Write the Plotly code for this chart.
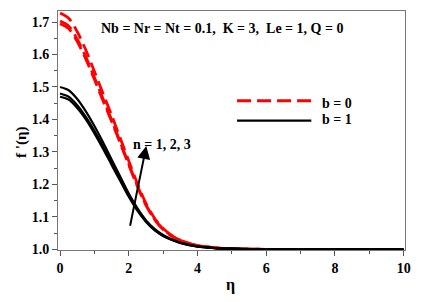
import plotly.graph_objects as go

eta = [0, 0.25, 0.5, 0.75, 1.0, 1.25, 1.5, 1.75, 2.0, 2.25, 2.5, 2.75, 3.0, 3.25, 3.5, 4.0, 4.5, 5.0, 5.5, 6.0, 7.0, 8.0, 9.0, 10.0]

b0_n1 = [1.728, 1.712, 1.670, 1.614, 1.548, 1.480, 1.413, 1.343, 1.272, 1.203, 1.142, 1.096, 1.064, 1.043, 1.028, 1.012, 1.005, 1.002, 1.001, 1.0, 1.0, 1.0, 1.0, 1.0]
b0_n2 = [1.703, 1.688, 1.647, 1.593, 1.529, 1.464, 1.399, 1.331, 1.263, 1.196, 1.137, 1.093, 1.062, 1.042, 1.027, 1.012, 1.005, 1.002, 1.001, 1.0, 1.0, 1.0, 1.0, 1.0]
b0_n3 = [1.695, 1.680, 1.640, 1.586, 1.523, 1.458, 1.394, 1.327, 1.260, 1.194, 1.136, 1.092, 1.061, 1.041, 1.027, 1.011, 1.005, 1.002, 1.001, 1.0, 1.0, 1.0, 1.0, 1.0]

b1_n1 = [1.500, 1.490, 1.463, 1.425, 1.380, 1.330, 1.277, 1.224, 1.172, 1.127, 1.090, 1.063, 1.044, 1.031, 1.021, 1.009, 1.004, 1.002, 1.001, 1.0, 1.0, 1.0, 1.0, 1.0]
b1_n2 = [1.480, 1.470, 1.444, 1.408, 1.365, 1.317, 1.266, 1.215, 1.165, 1.122, 1.086, 1.060, 1.042, 1.030, 1.020, 1.009, 1.004, 1.002, 1.001, 1.0, 1.0, 1.0, 1.0, 1.0]
b1_n3 = [1.470, 1.461, 1.435, 1.400, 1.357, 1.310, 1.260, 1.211, 1.162, 1.119, 1.085, 1.059, 1.041, 1.029, 1.020, 1.008, 1.004, 1.002, 1.001, 1.0, 1.0, 1.0, 1.0, 1.0]

x_ticks = [0, 2, 4, 6, 8, 10]
y_ticks = [1.0, 1.1, 1.2, 1.3, 1.4, 1.5, 1.6, 1.7]

FONT = "Liberation Serif"
DASH = "14px,6px"

fig = go.Figure()
for ys in (b0_n1, b0_n2, b0_n3):
    fig.add_trace(go.Scatter(x=eta, y=ys, mode="lines", line=dict(color="#ff0000", width=2.8, dash=DASH, shape="spline", smoothing=0.8), showlegend=False))
for ys in (b1_n1, b1_n2, b1_n3):
    fig.add_trace(go.Scatter(x=eta, y=ys, mode="lines", line=dict(color="#000000", width=2.2, shape="spline", smoothing=0.8), showlegend=False))

# legend keys
fig.add_shape(type="line", xref="paper", yref="paper", x0=0.516, x1=0.73, y0=0.625, y1=0.625, line=dict(color="#ff0000", width=3, dash=DASH))
fig.add_shape(type="line", xref="paper", yref="paper", x0=0.516, x1=0.73, y0=0.541, y1=0.541, line=dict(color="#000000", width=2.2))

def label(x, y, text, size=14, angle=0, xanchor="center"):
    fig.add_annotation(xref="paper", yref="paper", x=x, y=y, text="<b>%s</b>" % text, showarrow=False,
                       xanchor=xanchor, yanchor="middle", textangle=angle,
                       font=dict(family=FONT, size=size, color="black"))

label(0.755, 0.613, "b = 0", xanchor="left")
label(0.755, 0.544, "b = 1", xanchor="left")
label(0.472, 0.925, "Nb = Nr = Nt = 0.1,  K = 3,  Le = 1, Q = 0")
label(0.299, 0.44, "n = 1, 2, 3")
label(0.496, -0.146, "η", size=16)
label(-0.105, 0.45, "f '(η)", size=15, angle=-90)

# arrow
fig.add_annotation(x=2.51, y=1.318, ax=2.03, ay=1.068, xref="x", yref="y", axref="x", ayref="y", text="", showarrow=True, arrowhead=2, arrowsize=1.3, arrowwidth=2, arrowcolor="black")

axis_common = dict(showgrid=False, zeroline=False, showline=True, linecolor="#777777", linewidth=1, mirror=True, ticks="outside", ticklen=5, tickcolor="#555555", tickfont=dict(family=FONT, size=14, color="black"))
fig.update_xaxes(range=[-0.06, 10.04], tickvals=x_ticks, ticktext=["<b>%d</b>" % v for v in x_ticks], minor=dict(dtick=1, ticks="outside", ticklen=3, tickcolor="#555555"), **axis_common)
fig.update_yaxes(range=[0.998, 1.734], tickvals=y_ticks, ticktext=["<b>%.1f</b>" % v for v in y_ticks], minor=dict(dtick=0.05, ticks="outside", ticklen=3, tickcolor="#555555"), **axis_common)

# page body adds an 8px offset; margins compensate so the plot area lands where the reference has it
fig.update_layout(width=441, height=302, margin=dict(l=50, r=44, t=3, b=60), plot_bgcolor="white", paper_bgcolor="white")

fig.write_html("out.html")
